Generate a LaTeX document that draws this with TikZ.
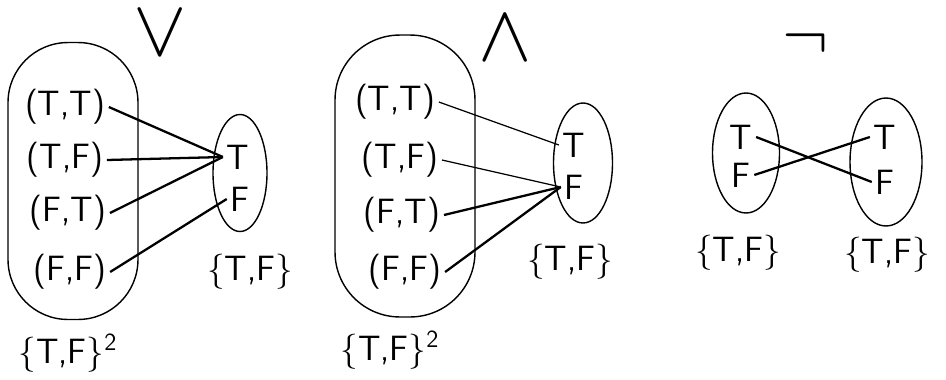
\documentclass[tikz,border=0pt]{standalone}
\usetikzlibrary{shapes.geometric}

\begin{document}
\begin{tikzpicture}[x=0.02cm, y=-0.02cm, font=\sffamily\fontsize{20}{22}\selectfont,
    blob/.style={draw, line width=0.8pt, inner sep=0pt},
    oval/.style={blob, ellipse},
    wire/.style={line width=1.3pt},
    thinwire/.style={line width=0.7pt},
    elem/.style={inner sep=2pt},
    opsym/.style={inner sep=0pt}]
  \useasboundingbox (0,0) rectangle (946,379);

  % disjunction
  \node[opsym] (orsym) at (160,33) {\scalebox{2.2}{$\vee$}};
  \node[blob, rounded corners=1.2cm, minimum width=2.6cm, minimum height=5.54cm] (orsq) at (73,181) {};
  \node[elem] (ortt) at (65,107) {(T,T)};
  \node[elem] (ortf) at (65,160) {(T,F)};
  \node[elem] (orft) at (68,213) {(F,T)};
  \node[elem] (orff) at (70,272) {(F,F)};
  \node[oval, minimum width=1.08cm, minimum height=2.34cm] (orset) at (240,173) {};
  \node[elem] (ort) at (238,157) {T};
  \node[elem] (orf) at (240,199) {F};
  \node (orsqlab) at (68,353) {\{T,F\}\textsuperscript{2}};
  \node (orsetlab) at (250,272) {\{T,F\}};
  \draw[wire] (ortt.east) -- (ort.west);
  \draw[wire] (ortf.east) -- (ort.west);
  \draw[wire] (orft.east) -- (ort.west);
  \draw[wire] (orff.east) -- (orf.west);

  % conjunction
  \node[opsym] (andsym) at (505,38) {\scalebox{2.2}{$\wedge$}};
  \node[blob, rounded corners=1.3cm, minimum width=2.8cm, minimum height=5.64cm] (andsq) at (405,176) {};
  \node[elem] (andtt) at (395,102) {(T,T)};
  \node[elem] (andtf) at (400,160) {(T,F)};
  \node[elem] (andft) at (402,215) {(F,T)};
  \node[elem] (andff) at (405,272) {(F,F)};
  \node[oval, minimum width=1.18cm, minimum height=2.4cm] (andset) at (583,163) {};
  \node[elem] (andt) at (574,145) {T};
  \node[elem] (andf) at (574,187) {F};
  \node (andsqlab) at (390,350) {\{T,F\}\textsuperscript{2}};
  \node (andsetlab) at (570,262) {\{T,F\}};
  \draw[thinwire] (andtt.east) -- (andt.west);
  \draw[thinwire] (andtf.east) -- (andf.west);
  \draw[wire] (andft.east) -- (andf.west);
  \draw[wire] (andff.east) -- (andf.west);

  % negation
  \node[opsym] (notsym) at (806,44) {\scalebox{1.9}{$\neg$}};
  \node[oval, minimum width=1.34cm, minimum height=2.4cm] (notin) at (746,153) {};
  \node[oval, minimum width=1.44cm, minimum height=2.56cm] (notout) at (886,162) {};
  \node[elem] (notint) at (741,137) {T};
  \node[elem] (notinf) at (741,175) {F};
  \node[elem] (notoutt) at (885,137) {T};
  \node[elem] (notoutf) at (885,182) {F};
  \node (notinlab) at (738,253) {\{T,F\}};
  \node (notoutlab) at (887,255) {\{T,F\}};
  \draw[wire] (notint.east) -- (notoutf.west);
  \draw[wire] (notinf.east) -- (notoutt.west);
\end{tikzpicture}
\end{document}
